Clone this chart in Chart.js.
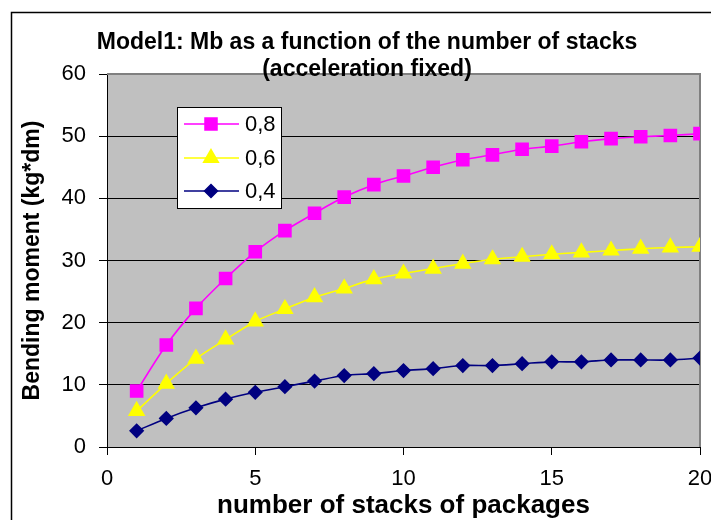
<!DOCTYPE html>
<html lang="en">
<head>
<meta charset="UTF-8">
<title>Model1: Mb as a function of the number of stacks</title>
<script src="https://cdn.jsdelivr.net/npm/chart.js"></script>
<style>
  html, body { margin: 0; padding: 0; background: #fff; }
  #wrap { width: 711px; height: 520px; position: relative; }
</style>
</head>
<body>
<div id="wrap"><canvas id="mbChart" width="711" height="520"></canvas></div>
<script>
// number of stacks of packages
const stacks = [1, 2, 3, 4, 5, 6, 7, 8, 9, 10, 11, 12, 13, 14, 15, 16, 17, 18, 19, 20];
// bending moment (kg*dm) per acceleration
const mb08 = [9.0, 16.4, 22.3, 27.1, 31.4, 34.8, 37.6, 40.2, 42.2, 43.6, 45.0, 46.2, 47.0, 47.9, 48.4, 49.1, 49.6, 49.9, 50.1, 50.4];
const mb06 = [5.8, 10.2, 14.2, 17.3, 20.2, 22.2, 24.1, 25.5, 27.0, 27.9, 28.7, 29.5, 30.2, 30.6, 31.0, 31.3, 31.6, 31.9, 32.1, 32.2];
const mb04 = [2.6, 4.6, 6.3, 7.7, 8.8, 9.7, 10.6, 11.5, 11.8, 12.3, 12.6, 13.1, 13.1, 13.4, 13.7, 13.7, 14.0, 14.0, 14.0, 14.3];
const seriesLabels = ['0,8', '0,6', '0,4'];
const xTicks = [0, 5, 10, 15, 20];
const yTicks = [0, 10, 20, 30, 40, 50, 60];

const FONT = "'Liberation Sans', Arial, sans-serif";

function toPoints(vals) {
  return vals.map((v, i) => ({ x: stacks[i], y: v }));
}

// frame, grey plot background and plot border
const plotBackground = {
  id: 'plotBackground',
  beforeDraw(chart) {
    const { ctx, chartArea: a } = chart;
    ctx.save();
    ctx.fillStyle = '#fff';
    ctx.fillRect(0, 0, chart.width, chart.height);
    ctx.strokeStyle = '#000';
    ctx.lineWidth = 1.5;
    ctx.strokeRect(11.5, 12.5, 760, 560);
    ctx.fillStyle = '#c0c0c0';
    ctx.fillRect(a.left, a.top, a.right - a.left, a.bottom - a.top);
    ctx.restore();
  },
  beforeDatasetsDraw(chart) {
    const { ctx, chartArea: a } = chart;
    ctx.save();
    ctx.strokeStyle = '#808080';
    ctx.lineWidth = 2;
    ctx.beginPath();
    ctx.moveTo(a.left, a.top);
    ctx.lineTo(a.right, a.top);
    ctx.lineTo(a.right, a.bottom);
    ctx.stroke();
    ctx.restore();
  }
};

// two-line title, placed over the chart like the original sheet
const chartTitle = {
  id: 'chartTitle',
  afterDraw(chart) {
    const { ctx } = chart;
    ctx.save();
    ctx.fillStyle = '#000';
    ctx.font = 'bold 23px ' + FONT;
    ctx.textAlign = 'center';
    ctx.textBaseline = 'middle';
    ctx.fillText('Model1: Mb as a function of the number of stacks', 367, 43);
    ctx.fillText('(acceleration fixed)', 367, 70);
    ctx.restore();
  }
};

// boxed legend inside the plot area
const boxLegend = {
  id: 'boxLegend',
  afterDraw(chart) {
    const { ctx } = chart;
    const bx = 177, by = 107, bw = 104, bh = 101;
    ctx.save();
    ctx.fillStyle = '#fff';
    ctx.fillRect(bx, by, bw, bh);
    ctx.strokeStyle = '#000';
    ctx.lineWidth = 1;
    ctx.strokeRect(bx + 0.5, by + 0.5, bw, bh);
    const rows = [124, 158, 191];
    chart.data.datasets.forEach((ds, i) => {
      const y = rows[i];
      ctx.strokeStyle = ds.borderColor;
      ctx.lineWidth = 1.5;
      ctx.beginPath();
      ctx.moveTo(184, y);
      ctx.lineTo(239, y);
      ctx.stroke();
      ctx.fillStyle = ds.pointBackgroundColor;
      ctx.strokeStyle = ds.borderColor;
      Chart.helpers.drawPoint(ctx, {
        pointStyle: ds.pointStyle,
        radius: ds.pointRadius,
        rotation: 0,
        borderWidth: 1
      }, 211, y);
      ctx.fillStyle = '#000';
      ctx.font = '22px ' + FONT;
      ctx.textAlign = 'left';
      ctx.textBaseline = 'middle';
      ctx.fillText(ds.label, 245, y + 1);
    });
    ctx.restore();
  }
};

const ctx = document.getElementById('mbChart').getContext('2d');
new Chart(ctx, {
  type: 'line',
  data: {
    datasets: [
      {
        label: seriesLabels[0],
        data: toPoints(mb08),
        borderColor: '#ff00ff',
        backgroundColor: '#ff00ff',
        pointBackgroundColor: '#ff00ff',
        pointStyle: 'rect',
        pointRadius: 8.5,
        borderWidth: 1.6,
        tension: 0.3
      },
      {
        label: seriesLabels[1],
        data: toPoints(mb06),
        borderColor: '#ffff00',
        backgroundColor: '#ffff00',
        pointBackgroundColor: '#ffff00',
        pointStyle: 'triangle',
        pointRadius: 8.5,
        borderWidth: 1.6,
        tension: 0.3
      },
      {
        label: seriesLabels[2],
        data: toPoints(mb04),
        borderColor: '#000080',
        backgroundColor: '#000080',
        pointBackgroundColor: '#000080',
        pointStyle: 'rectRot',
        pointRadius: 6.5,
        borderWidth: 1.6,
        tension: 0.3
      }
    ]
  },
  options: {
    responsive: false,
    animation: false,
    layout: { padding: { left: 0, top: 74, right: 11, bottom: 0 } },
    plugins: {
      legend: { display: false },
      tooltip: { enabled: false },
      title: { display: false }
    },
    elements: { point: { borderWidth: 1, hoverRadius: 8 } },
    scales: {
      x: {
        type: 'linear',
        min: 0,
        max: 20,
        afterFit(scale) {
          scale.height = 73;
          // let the last label run off the edge instead of shrinking the plot
          scale.paddingLeft = 0;
          scale.paddingRight = 0;
        },
        afterBuildTicks(scale) { scale.ticks = xTicks.map(v => ({ value: v })); },
        border: { color: '#000', width: 1 },
        grid: { drawOnChartArea: false, tickLength: 8, color: '#000' },
        ticks: {
          color: '#000',
          padding: 11,
          maxRotation: 0,
          autoSkip: false,
          font: { family: FONT, size: 22 }
        },
        title: {
          display: true,
          text: 'number of stacks of packages',
          color: '#000',
          font: { family: FONT, size: 26, weight: 'bold', lineHeight: 1 },
          padding: { top: 0, bottom: 1 }
        }
      },
      y: {
        min: 0,
        max: 60,
        afterFit(scale) { scale.width = 107; },
        afterBuildTicks(scale) { scale.ticks = yTicks.map(v => ({ value: v })); },
        border: { color: '#000', width: 1 },
        grid: {
          tickLength: 8,
          color: (c) => (c.tick && (c.tick.value === 0 || c.tick.value === 60)) ? 'rgba(0,0,0,0)' : '#000',
          tickColor: '#000'
        },
        ticks: {
          color: '#000',
          padding: 13,
          font: { family: FONT, size: 22 }
        },
        title: {
          display: true,
          text: 'Bending moment (kg*dm)',
          color: '#000',
          font: { family: FONT, size: 23, weight: 'bold', lineHeight: 1 },
          padding: { top: 21, bottom: 0 }
        }
      }
    }
  },
  plugins: [plotBackground, chartTitle, boxLegend]
});
</script>
</body>
</html>
